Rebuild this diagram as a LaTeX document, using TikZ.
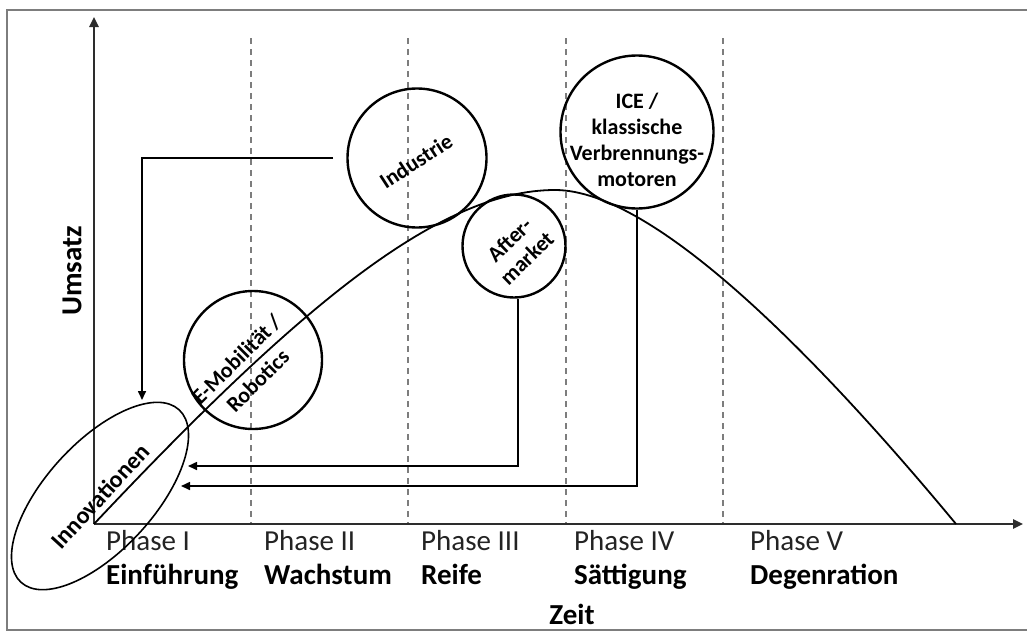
\documentclass[tikz,border=0pt]{standalone}
\usepackage{fontspec}
\setmainfont{Carlito}
\usetikzlibrary{arrows.meta,shapes.geometric,positioning}
\definecolor{FrameGray}{RGB}{125,125,125}
\definecolor{AxisGray}{RGB}{45,45,45}
\definecolor{PhaseGray}{RGB}{35,35,35}

\tikzset{
  axis/.style={-{Triangle[length=10pt,width=9pt]}, line width=2.4pt, AxisGray},
  flow/.style={-{Triangle[length=9pt,width=8pt]}, line width=1.6pt},
  phaseline/.style={FrameGray, line width=1.2pt, dash pattern=on 6pt off 5pt},
  bubble/.style={draw, circle, line width=2.4pt, inner sep=0pt},
  lbl/.style={font=\fontsize{22}{25}\selectfont\bfseries, align=center, inner sep=0pt},
  phasename/.style={font=\fontsize{29}{34}\selectfont, PhaseGray, anchor=base west, inner sep=0pt},
  stagename/.style={font=\fontsize{29}{34}\selectfont\bfseries, anchor=base west, inner sep=0pt},
}

\begin{document}
\begin{tikzpicture}[x=1pt, y=-1pt]
  \useasboundingbox (0,0) rectangle (1027,632);
  % Rahmen
  \draw[FrameGray, line width=2pt] (1027,10) -- (7,10) -- (7,630) -- (1027,630);

  % Phasengrenzen
  \foreach \x in {251,408,566,723}
    \draw[phaseline] (\x,38) -- (\x,524);

  % Achsen
  \coordinate (O) at (94,524);
  \coordinate (ytop) at (94,17);
  \coordinate (xend) at (1023,524);
  \draw[axis] (O) -- (ytop);
  \draw[axis] (O) -- (xend);
  \node[font=\fontsize{29}{34}\selectfont\bfseries, rotate=90] (umsatz) at (72,271) {Umsatz};
  \node[font=\fontsize{29}{34}\selectfont\bfseries, anchor=base, inner sep=0pt] (zeit) at (572,624) {Zeit};

  % Lebenszykluskurve
  \draw[line width=1.8pt] (O) .. controls (300,305) and (440,190) .. (555,190)
    .. controls (655,190) and (820,360) .. (956,524);

  % Phasen
  \foreach \x/\p/\s [count=\i] in {106/Phase I/Einführung, 264/Phase II/Wachstum,
      421/Phase III/Reife, 574/Phase IV/Sättigung, 750/Phase V/Degenration} {
    \node[phasename] (ph\i) at (\x,550) {\p};
    \node[stagename] (st\i) at (\x,584) {\s};
  }

  % Segmente
  \node[draw, ellipse, line width=1.6pt, minimum width=234pt, minimum height=108pt,
    rotate=47.5, font=\fontsize{24}{28}\selectfont\bfseries] (inno) at (100,496) {Innovationen};
  \node[bubble, minimum size=138pt] (emob) at (253,360) {};
  \node[lbl, font=\fontsize{22}{30}\selectfont\bfseries, rotate=45] (emobtxt) at (247,370)
    {E-Mobilität /\\Robotics};
  \node[bubble, minimum size=139pt] (ind) at (417,158) {};
  \node[lbl, rotate=33] (indtxt) at (416,161) {Industrie};
  \node[bubble, minimum size=103pt] (aft) at (514,246) {};
  \node[lbl, rotate=44] (afttxt) at (518,249) {After-\\market};
  \node[bubble, minimum size=153pt] (ice) at (637,132) {};
  \node[lbl, font=\fontsize{22}{26}\selectfont\bfseries] (icetxt) at (637,140)
    {ICE /\\klassische\\Verbrennungs-\\motoren};

  % Rueckfluesse
  \coordinate (indstart) at (333,158);
  \coordinate (innotop) at (142,400);
  \coordinate (aftend) at (188,466);
  \coordinate (iceend) at (181,486);
  \draw[flow] (indstart) -| (innotop);
  \draw[flow] ([xshift=4pt]aft.south) |- (aftend);
  \draw[flow] (ice.south) |- (iceend);
\end{tikzpicture}
\end{document}
